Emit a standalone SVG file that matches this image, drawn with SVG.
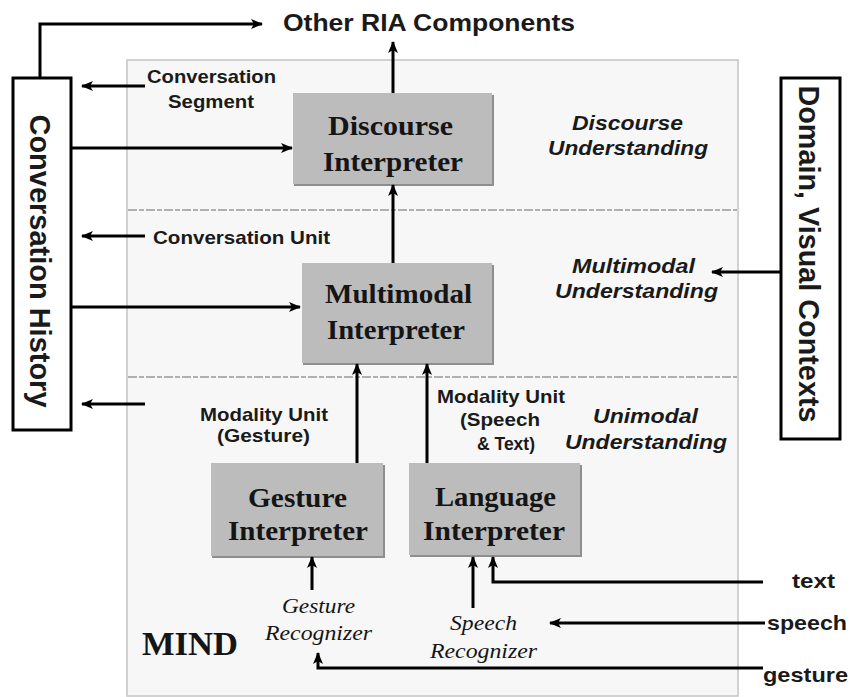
<svg xmlns="http://www.w3.org/2000/svg" width="852" height="697" viewBox="0 0 852 697">
<defs>
<marker id="ah" markerUnits="userSpaceOnUse" markerWidth="12" markerHeight="10" refX="11" refY="5" orient="auto">
<path d="M0,0 L12,5 L0,10 L3,5 z" fill="#000"/>
</marker>
<style>
.conn{fill:none;stroke:#000;stroke-width:3;marker-end:url(#ah)}
.box{fill:#bcbcbc}
.shadow{fill:#8e8e8e}
.ser{font-family:"Liberation Serif","Times New Roman",serif;font-weight:bold;font-size:28px;fill:#151515}
.seri{font-family:"Liberation Serif","Times New Roman",serif;font-style:italic;font-size:21px;fill:#151515}
.sans{font-family:"Liberation Sans",Arial,sans-serif;font-weight:bold;font-size:19px;fill:#1a1a1a}
.sansi{font-family:"Liberation Sans",Arial,sans-serif;font-weight:bold;font-style:italic;font-size:20px;fill:#1a1a1a}
.side{fill:#fff;stroke:#000;stroke-width:3}
.dash{stroke:#b0b0b0;stroke-width:2;stroke-dasharray:9 2 5 2}
.big{font-size:24px}
.vert{font-size:29px}
.io{font-size:21px}
.mind{font-size:34px}
</style>
</defs>
<rect width="852" height="697" fill="#fff"/>
<g id="mind">
<rect x="127" y="60" width="611" height="636" fill="#f7f7f7" stroke="#c4c4c4" stroke-width="1.5"/>
<line class="dash" x1="128" y1="210" x2="737" y2="210"/>
<line class="dash" x1="128" y1="377" x2="737" y2="377"/>
<text class="ser mind" x="142" y="655" textLength="96" lengthAdjust="spacingAndGlyphs">MIND</text>
</g>
<g id="other-ria">
<text class="sans big" x="283" y="31" textLength="292" lengthAdjust="spacingAndGlyphs">Other RIA Components</text>
</g>
<g id="conversation-history">
<rect class="side" x="13" y="78" width="58" height="352"/>
<text class="sans vert" transform="translate(30,261) rotate(90)" text-anchor="middle" textLength="293" lengthAdjust="spacingAndGlyphs">Conversation History</text>
</g>
<g id="domain-contexts">
<rect class="side" x="781" y="78" width="59" height="361"/>
<text class="sans vert" transform="translate(799,254) rotate(90)" text-anchor="middle" textLength="337" lengthAdjust="spacingAndGlyphs">Domain, Visual Contexts</text>
</g>
<g id="discourse-interpreter">
<rect class="shadow" x="294" y="95" width="200" height="91"/>
<rect class="box" x="293" y="93" width="199" height="91"/>
<text class="ser" x="328" y="135" textLength="125" lengthAdjust="spacingAndGlyphs">Discourse</text>
<text class="ser" x="323" y="171" textLength="140" lengthAdjust="spacingAndGlyphs">Interpreter</text>
</g>
<g id="multimodal-interpreter">
<rect class="shadow" x="303" y="265" width="191" height="100"/>
<rect class="box" x="302" y="263" width="190" height="100"/>
<text class="ser" x="325" y="303" textLength="147" lengthAdjust="spacingAndGlyphs">Multimodal</text>
<text class="ser" x="327" y="339" textLength="138" lengthAdjust="spacingAndGlyphs">Interpreter</text>
</g>
<g id="gesture-interpreter">
<rect class="shadow" x="212" y="465" width="173" height="93"/>
<rect class="box" x="211" y="463" width="172" height="93"/>
<text class="ser" x="248" y="507" textLength="99" lengthAdjust="spacingAndGlyphs">Gesture</text>
<text class="ser" x="228" y="540" textLength="140" lengthAdjust="spacingAndGlyphs">Interpreter</text>
</g>
<g id="language-interpreter">
<rect class="shadow" x="410" y="465" width="172" height="92"/>
<rect class="box" x="409" y="463" width="171" height="92"/>
<text class="ser" x="435" y="506" textLength="121" lengthAdjust="spacingAndGlyphs">Language</text>
<text class="ser" x="423" y="540" textLength="142" lengthAdjust="spacingAndGlyphs">Interpreter</text>
</g>
<g id="gesture-recognizer">
<text class="seri" x="282" y="613" textLength="73" lengthAdjust="spacingAndGlyphs">Gesture</text>
<text class="seri" x="265" y="640" textLength="107" lengthAdjust="spacingAndGlyphs">Recognizer</text>
</g>
<g id="speech-recognizer">
<text class="seri" x="450" y="630" textLength="67" lengthAdjust="spacingAndGlyphs">Speech</text>
<text class="seri" x="430" y="658" textLength="107" lengthAdjust="spacingAndGlyphs">Recognizer</text>
</g>
<g id="labels">
<text class="sans" x="147" y="83" textLength="129" lengthAdjust="spacingAndGlyphs">Conversation</text>
<text class="sans" x="168" y="108" textLength="86" lengthAdjust="spacingAndGlyphs">Segment</text>
<text class="sans" x="153" y="244" textLength="177" lengthAdjust="spacingAndGlyphs">Conversation Unit</text>
<text class="sans" x="200" y="421" textLength="128" lengthAdjust="spacingAndGlyphs">Modality Unit</text>
<text class="sans" x="217" y="442" textLength="93" lengthAdjust="spacingAndGlyphs">(Gesture)</text>
<text class="sans" x="437" y="403" textLength="128" lengthAdjust="spacingAndGlyphs">Modality Unit</text>
<text class="sans" x="460" y="426" textLength="80" lengthAdjust="spacingAndGlyphs">(Speech</text>
<text class="sans" x="477" y="450" textLength="58" lengthAdjust="spacingAndGlyphs">&amp; Text)</text>
<text class="sansi" x="572" y="130" textLength="111" lengthAdjust="spacingAndGlyphs">Discourse</text>
<text class="sansi" x="548" y="155" textLength="160" lengthAdjust="spacingAndGlyphs">Understanding</text>
<text class="sansi" x="572" y="273" textLength="123" lengthAdjust="spacingAndGlyphs">Multimodal</text>
<text class="sansi" x="555" y="298" textLength="163" lengthAdjust="spacingAndGlyphs">Understanding</text>
<text class="sansi" x="593" y="423" textLength="105" lengthAdjust="spacingAndGlyphs">Unimodal</text>
<text class="sansi" x="565" y="449" textLength="162" lengthAdjust="spacingAndGlyphs">Understanding</text>
<text class="sans io" x="792" y="588" textLength="43" lengthAdjust="spacingAndGlyphs">text</text>
<text class="sans io" x="767" y="630" textLength="80" lengthAdjust="spacingAndGlyphs">speech</text>
<text class="sans io" x="763" y="682" textLength="85" lengthAdjust="spacingAndGlyphs">gesture</text>
</g>
<g id="connectors">
<path class="conn" d="M40,78 V24 H262"/>
<path class="conn" d="M393,93 V42"/>
<path class="conn" d="M145,86 H82"/>
<path class="conn" d="M72,148 H292"/>
<path class="conn" d="M145,236 H82"/>
<path class="conn" d="M72,307 H300"/>
<path class="conn" d="M393,263 V185"/>
<path class="conn" d="M145,404 H82"/>
<path class="conn" d="M357,463 V364"/>
<path class="conn" d="M427,463 V364"/>
<path class="conn" d="M312,590 V557"/>
<path class="conn" d="M473,608 V557"/>
<path class="conn" d="M763,582 H493 V557"/>
<path class="conn" d="M765,623 H550"/>
<path class="conn" d="M763,668 H318 V653"/>
<path class="conn" d="M780,272 H712"/>
</g>
</svg>
